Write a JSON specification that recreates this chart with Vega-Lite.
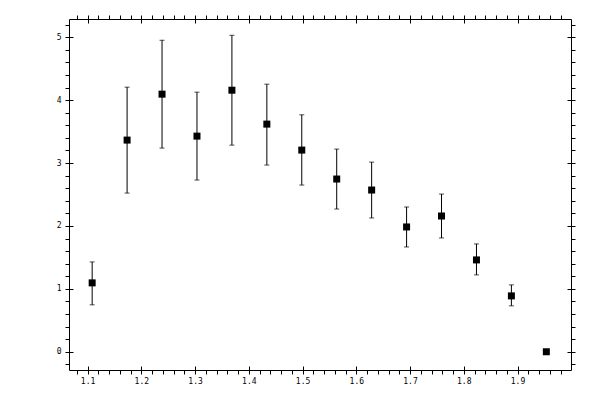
{
  "$schema": "https://vega.github.io/schema/vega-lite/v6.json",
  "autosize": "none",
  "padding": {"left": 69, "top": 19, "right": 29, "bottom": 30},
  "width": 502,
  "height": 351,
  "data": {
    "values": [
      {"x": 1.1086, "y": 1.095, "lo": 0.746, "hi": 1.428},
      {"x": 1.1736, "y": 3.365, "lo": 2.523, "hi": 4.206},
      {"x": 1.2386, "y": 4.095, "lo": 3.238, "hi": 4.952},
      {"x": 1.3036, "y": 3.428, "lo": 2.730, "hi": 4.127},
      {"x": 1.3686, "y": 4.158, "lo": 3.285, "hi": 5.031},
      {"x": 1.4336, "y": 3.619, "lo": 2.968, "hi": 4.254},
      {"x": 1.4986, "y": 3.206, "lo": 2.650, "hi": 3.767},
      {"x": 1.5636, "y": 2.746, "lo": 2.269, "hi": 3.222},
      {"x": 1.6286, "y": 2.571, "lo": 2.127, "hi": 3.015},
      {"x": 1.6936, "y": 1.984, "lo": 1.666, "hi": 2.301},
      {"x": 1.7586, "y": 2.158, "lo": 1.809, "hi": 2.507},
      {"x": 1.8236, "y": 1.460, "lo": 1.222, "hi": 1.714},
      {"x": 1.8886, "y": 0.888, "lo": 0.730, "hi": 1.063},
      {"x": 1.9536, "y": 0.0, "lo": 0.0, "hi": 0.0}
    ]
  },
  "layer": [
    {
      "mark": {"type": "rule", "color": "black", "strokeWidth": 1},
      "encoding": {
        "x": {"field": "x", "type": "quantitative", "scale": {"domain": [1.0655, 1.9995], "nice": false, "zero": false},
              "axis": {"orient": "bottom", "title": null, "domain": false, "grid": false, "tickSize": 4, "labelPadding": 3,
                       "values": [1.08, 1.1, 1.12, 1.14, 1.16, 1.18, 1.2, 1.22, 1.24, 1.26, 1.28, 1.3, 1.32, 1.34, 1.36, 1.38, 1.4, 1.42, 1.44, 1.46, 1.48, 1.5, 1.52, 1.54, 1.56, 1.58, 1.6, 1.62, 1.64, 1.66, 1.68, 1.7, 1.72, 1.74, 1.76, 1.78, 1.8, 1.82, 1.84, 1.86, 1.88, 1.9, 1.92, 1.94, 1.96, 1.98],
                       "labelExpr": "abs(datum.value * 10 - round(datum.value * 10)) < 0.0001 ? format(datum.value, '.1f') : ''"}},
        "y": {"field": "lo", "type": "quantitative", "scale": {"domain": [-0.29, 5.29], "nice": false, "zero": false},
              "axis": {"orient": "left", "title": null, "domain": false, "grid": false, "tickSize": 4, "labelPadding": 4,
                       "values": [-0.2, 0, 0.2, 0.4, 0.6, 0.8, 1, 1.2, 1.4, 1.6, 1.8, 2, 2.2, 2.4, 2.6, 2.8, 3, 3.2, 3.4, 3.6, 3.8, 4, 4.2, 4.4, 4.6, 4.8, 5, 5.2],
                       "labelExpr": "abs(datum.value - round(datum.value)) < 0.0001 ? format(datum.value, 'd') : ''"}},
        "y2": {"field": "hi"}
      }
    },
    {
      "mark": {"type": "tick", "orient": "horizontal", "color": "black", "size": 5, "thickness": 1},
      "encoding": {
        "x": {"field": "x", "type": "quantitative",
              "axis": {"orient": "bottom", "title": null, "domain": false, "grid": false, "labels": false, "tickSize": 4, "offset": -4,
                       "values": [1.1, 1.2, 1.3, 1.4, 1.5, 1.6, 1.7, 1.8, 1.9]}},
        "y": {"field": "hi", "type": "quantitative",
              "axis": {"orient": "left", "title": null, "domain": false, "grid": false, "labels": false, "tickSize": 4, "offset": -4,
                       "values": [0, 1, 2, 3, 4, 5]}}
      }
    },
    {
      "mark": {"type": "tick", "orient": "horizontal", "color": "black", "size": 5, "thickness": 1},
      "encoding": {
        "x": {"field": "x", "type": "quantitative",
              "axis": {"orient": "top", "title": null, "domain": false, "grid": false, "labels": false, "tickSize": 4,
                       "values": [1.08, 1.1, 1.12, 1.14, 1.16, 1.18, 1.2, 1.22, 1.24, 1.26, 1.28, 1.3, 1.32, 1.34, 1.36, 1.38, 1.4, 1.42, 1.44, 1.46, 1.48, 1.5, 1.52, 1.54, 1.56, 1.58, 1.6, 1.62, 1.64, 1.66, 1.68, 1.7, 1.72, 1.74, 1.76, 1.78, 1.8, 1.82, 1.84, 1.86, 1.88, 1.9, 1.92, 1.94, 1.96, 1.98]}},
        "y": {"field": "lo", "type": "quantitative",
              "axis": {"orient": "right", "title": null, "domain": false, "grid": false, "labels": false, "tickSize": 4,
                       "values": [-0.2, 0, 0.2, 0.4, 0.6, 0.8, 1, 1.2, 1.4, 1.6, 1.8, 2, 2.2, 2.4, 2.6, 2.8, 3, 3.2, 3.4, 3.6, 3.8, 4, 4.2, 4.4, 4.6, 4.8, 5, 5.2]}}
      }
    },
    {
      "mark": {"type": "point", "shape": "square", "filled": true, "color": "black", "opacity": 1, "size": 49},
      "encoding": {
        "x": {"field": "x", "type": "quantitative",
              "axis": {"orient": "top", "title": null, "domain": false, "grid": false, "labels": false, "tickSize": 4, "offset": -4,
                       "values": [1.1, 1.2, 1.3, 1.4, 1.5, 1.6, 1.7, 1.8, 1.9]}},
        "y": {"field": "y", "type": "quantitative",
              "axis": {"orient": "right", "title": null, "domain": false, "grid": false, "labels": false, "tickSize": 4, "offset": -4,
                       "values": [0, 1, 2, 3, 4, 5]}}
      }
    }
  ],
  "resolve": {"axis": {"x": "independent", "y": "independent"}},
  "config": {
    "background": "white",
    "view": {"stroke": "black", "strokeWidth": 1},
    "axis": {"tickColor": "black", "tickWidth": 1, "labelColor": "black", "labelFont": "DejaVu Sans Mono", "labelFontSize": 8, "labelFlush": false, "labelOverlap": false}
  }
}
